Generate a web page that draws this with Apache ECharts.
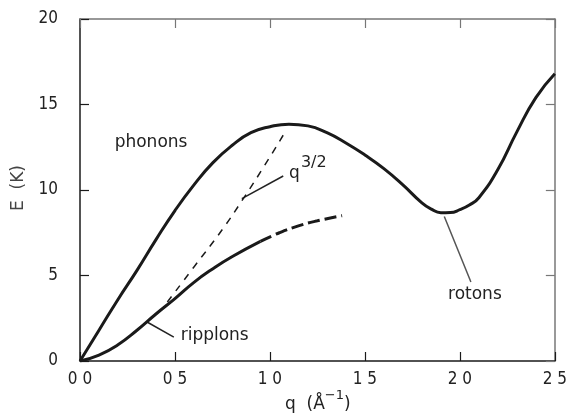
<!DOCTYPE html>
<html><head><meta charset="utf-8">
<script src="https://cdn.jsdelivr.net/npm/echarts@6/dist/echarts.min.js"></script>
<style>html,body{margin:0;padding:0;background:#fff}#c{width:570px;height:419px}</style>
</head><body><div id="c"></div>
<script>
// ---- data ----
const phononQ = [0,0.1,0.2,0.3,0.4,0.5,0.6,0.7,0.8,0.9,1.0,1.1,1.2,1.3,1.4,1.5,1.6,1.7,1.8,1.85,1.9,1.95,2.0,2.05,2.1,2.2,2.3,2.4,2.5];
const phononE = [0,1.8,3.6,5.3,7.1,8.8,10.3,11.6,12.6,13.35,13.7,13.85,13.75,13.35,12.75,12.05,11.25,10.3,9.25,8.88,8.67,8.68,8.85,9.12,9.55,11.2,13.4,15.4,16.8];
const ripplonQ = [0,0.1,0.2,0.3,0.4,0.5,0.6,0.7,0.8,0.95];
const ripplonE = [0,0.35,0.95,1.8,2.75,3.65,4.6,5.4,6.1,7.0];
const ripplonDashQ = [0.95,1.05,1.15,1.25,1.38];
const ripplonDashE = [7.0,7.5,7.9,8.2,8.5];
const q32Q = [0.46,0.6,0.75,0.86,0.97,1.075];
const q32E = [3.45,5.5,7.7,9.5,11.4,13.3];
const xTicks = [0,0.5,1.0,1.5,2.0,2.5];
const yTicks = [0,5,10,15,20];

const zip = (a,b) => a.map((v,i)=>[v,b[i]]);
const chart = echarts.init(document.getElementById('c'), null, {renderer:'canvas'});
const txtFont = "'DejaVu Sans', sans-serif";
const tickFont = "'Liberation Sans Narrow','DejaVu Sans Condensed','DejaVu Sans',sans-serif";
const dark = '#1a1a1a', grey = '#777';

function axisBase(pos, main, isX) {
  return {
    type:'value', position:pos,
    min: isX ? xTicks[0] : yTicks[0],
    max: isX ? xTicks[xTicks.length-1] : yTicks[yTicks.length-1],
    interval: isX ? 0.5 : 5,
    axisLine:{show:true, onZero:false, lineStyle:{color: main?dark:grey, width:1.5}},
    axisTick:{show:true, inside:true, length:9, lineStyle:{color: main?dark:grey, width:1.2}},
    axisLabel: main ? {
      show:true, color:'#222', fontSize:17, fontFamily:tickFont, margin: isX?10:22,
      formatter: v => isX ? v.toFixed(1).replace('.',' ') : String(v)
    } : {show:false},
    splitLine:{show:false}
  };
}
const lineSeries = (q, e, style) => ({type:'line', data: zip(q, e), smooth:true,
  symbol:'none', lineStyle:style});

chart.setOption({
  animation:false,
  grid:{left:80, right:9, top:19, bottom:58},
  xAxis:[axisBase('bottom',true,true), axisBase('top',false,true)],
  yAxis:[axisBase('left',true,false), axisBase('right',false,false)],
  series:[
    lineSeries(phononQ, phononE, {color:dark, width:3}),
    lineSeries(ripplonQ, ripplonE, {color:dark, width:3}),
    lineSeries(ripplonDashQ, ripplonDashE, {color:dark, width:3, type:[12,5]}),
    lineSeries(q32Q, q32E, {color:dark, width:1.5, type:[7,7]})
  ]
});

const P = (q,e) => chart.convertToPixel({xAxisIndex:0, yAxisIndex:0}, [q,e]);
function txt(p, text, opts) {
  return {type:'text', x:p[0], y:p[1], style:Object.assign({
    text, font:'17px '+txtFont, fill:'#222', align:'center', verticalAlign:'middle',
    textAlign:'center', textVerticalAlign:'middle'}, opts||{})};
}
function ln(a,b,color) {
  return {type:'line', shape:{x1:a[0],y1:a[1],x2:b[0],y2:b[1]}, style:{stroke:color||'#222', lineWidth:1.5}};
}
const g = [];
g.push(txt(P(0.374,12.8), 'phonons'));
// q^{3/2}
const qp = P(1.1,10.95);
g.push(txt(qp, 'q', {align:'left', textAlign:'left'}));
g.push(txt([qp[0]+12, qp[1]-11], '3/2', {align:'left', textAlign:'left', font:'16px '+txtFont}));
g.push(ln(P(1.07,10.82), P(0.852,9.5)));
// ripplons
g.push(txt(P(0.53,1.5), 'ripplons', {align:'left', textAlign:'left'}));
g.push(ln(P(0.353,2.28), P(0.494,1.40)));
// rotons
g.push(txt(P(2.079,3.86), 'rotons'));
g.push(ln(P(1.918,8.45), P(2.058,4.62), '#555'));
// axis titles
g.push({type:'text', x:19, y:188, rotation:Math.PI/2, style:{text:'E  (K)', font:'17px '+txtFont, fill:'#444',
  align:'center', verticalAlign:'middle', textAlign:'center', textVerticalAlign:'middle'}});
g.push({type:'text', x:285, y:401, style:{text:'{n|q  (Å}{s|−1}{n|)}', font:'17px '+txtFont, fill:'#222',
  align:'left', verticalAlign:'middle', textAlign:'left', textVerticalAlign:'middle',
  rich:{n:{fontSize:17, fontFamily:txtFont, lineHeight:24, verticalAlign:'bottom'}, s:{fontSize:13, fontFamily:txtFont, lineHeight:24, verticalAlign:'top'}}}});
chart.setOption({graphic:g});
</script>
</body></html>
